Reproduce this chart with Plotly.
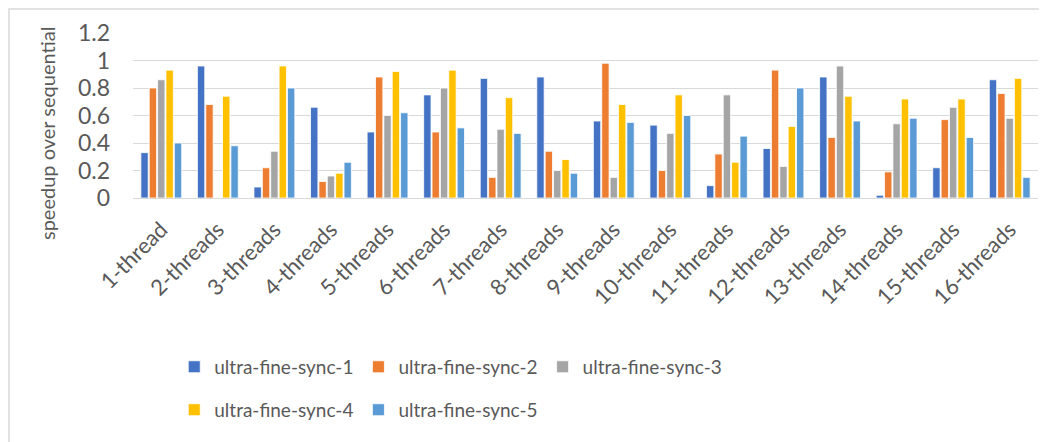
import plotly.graph_objects as go

categories = ["1-thread"] + [f"{i}-threads" for i in range(2, 17)]
series_names = ["ultra-fine-sync-1", "ultra-fine-sync-2", "ultra-fine-sync-3",
                "ultra-fine-sync-4", "ultra-fine-sync-5"]
sync1 = [0.33, 0.96, 0.08, 0.66, 0.48, 0.75, 0.87, 0.88, 0.56, 0.53, 0.09, 0.36, 0.88, 0.02, 0.22, 0.86]
sync2 = [0.80, 0.68, 0.22, 0.12, 0.88, 0.48, 0.15, 0.34, 0.98, 0.20, 0.32, 0.93, 0.44, 0.19, 0.57, 0.76]
sync3 = [0.86, 0.00, 0.34, 0.16, 0.60, 0.80, 0.50, 0.20, 0.15, 0.47, 0.75, 0.23, 0.96, 0.54, 0.66, 0.58]
sync4 = [0.93, 0.74, 0.96, 0.18, 0.92, 0.93, 0.73, 0.28, 0.68, 0.75, 0.26, 0.52, 0.74, 0.72, 0.72, 0.87]
sync5 = [0.40, 0.38, 0.80, 0.26, 0.62, 0.51, 0.47, 0.18, 0.55, 0.60, 0.45, 0.80, 0.56, 0.58, 0.44, 0.15]
y_ticks = [0, 0.2, 0.4, 0.6, 0.8, 1, 1.2]
y_tick_labels = ["0", "0.2", "0.4", "0.6", "0.8", "1", "1.2"]
y_title = "speedup over sequential"

colors = ["#4472C4", "#ED7D31", "#A5A5A5", "#FFC000", "#5B9BD5"]
all_series = [sync1, sync2, sync3, sync4, sync5]
legend_ids = ["legend", "legend", "legend", "legend2", "legend2"]

FONT = "Lato, 'Liberation Sans', sans-serif"
TXT = "#595959"

# figure is drawn inside the page body (8px default margin)
W, H = 1039, 434
L, R, T, B = 125, 9, 25, 244
PW, PH = W - L - R, H - T - B

fig = go.Figure()
for name, vals, col, lg in zip(series_names, all_series, colors, legend_ids):
    fig.add_trace(go.Bar(
        x=categories, y=vals, name=name,
        marker=dict(color=col, line=dict(color="white", width=0.8)),
        legend=lg,
    ))

legend_common = dict(orientation="h", xanchor="left", yanchor="middle",
                     xref="container", yref="container",
                     font=dict(family=FONT, size=19, color=TXT),
                     bgcolor="rgba(0,0,0,0)", itemwidth=30, tracegroupgap=0)

fig.update_layout(
    width=W, height=H,
    margin=dict(l=L, r=R, t=T, b=B),
    paper_bgcolor="white", plot_bgcolor="white",
    barmode="group", bargap=0.26, bargroupgap=0.12,
    font=dict(family=FONT, color=TXT),
    legend=dict(x=0.160, y=0.173, **legend_common),
    legend2=dict(x=0.160, y=0.074, **legend_common),
    xaxis=dict(
        tickangle=-45, tickfont=dict(family=FONT, size=22, color=TXT),
        ticklabelstandoff=9,
        showgrid=False, showline=True, linecolor="#D9D9D9", linewidth=1,
        ticks="", automargin=False,
    ),
    yaxis=dict(
        range=[0, 1.2], tickvals=y_ticks, ticktext=y_tick_labels,
        tickfont=dict(family=FONT, size=23, color=TXT),
        ticklabelstandoff=22,
        showgrid=True, gridcolor="#D9D9D9", gridwidth=1,
        zeroline=False, showline=False, ticks="", ticklen=0,
        automargin=False,
    ),
    annotations=[dict(text=y_title, textangle=-90, xref="paper", yref="paper",
                      x=(39 - L) / PW, y=(190 - 126) / PH, xanchor="center", yanchor="middle",
                      showarrow=False, font=dict(family=FONT, size=20, color=TXT))],
    shapes=[dict(type="rect", xref="paper", yref="paper",
                 x0=-(L - 1) / PW, x1=(W - L + 20) / PW,
                 y0=-(B + 20) / PH, y1=(PH + T - 1) / PH,
                 line=dict(color="#D9D9D9", width=1.5), fillcolor="rgba(0,0,0,0)", layer="below")],
)

fig.write_html("out.html")
